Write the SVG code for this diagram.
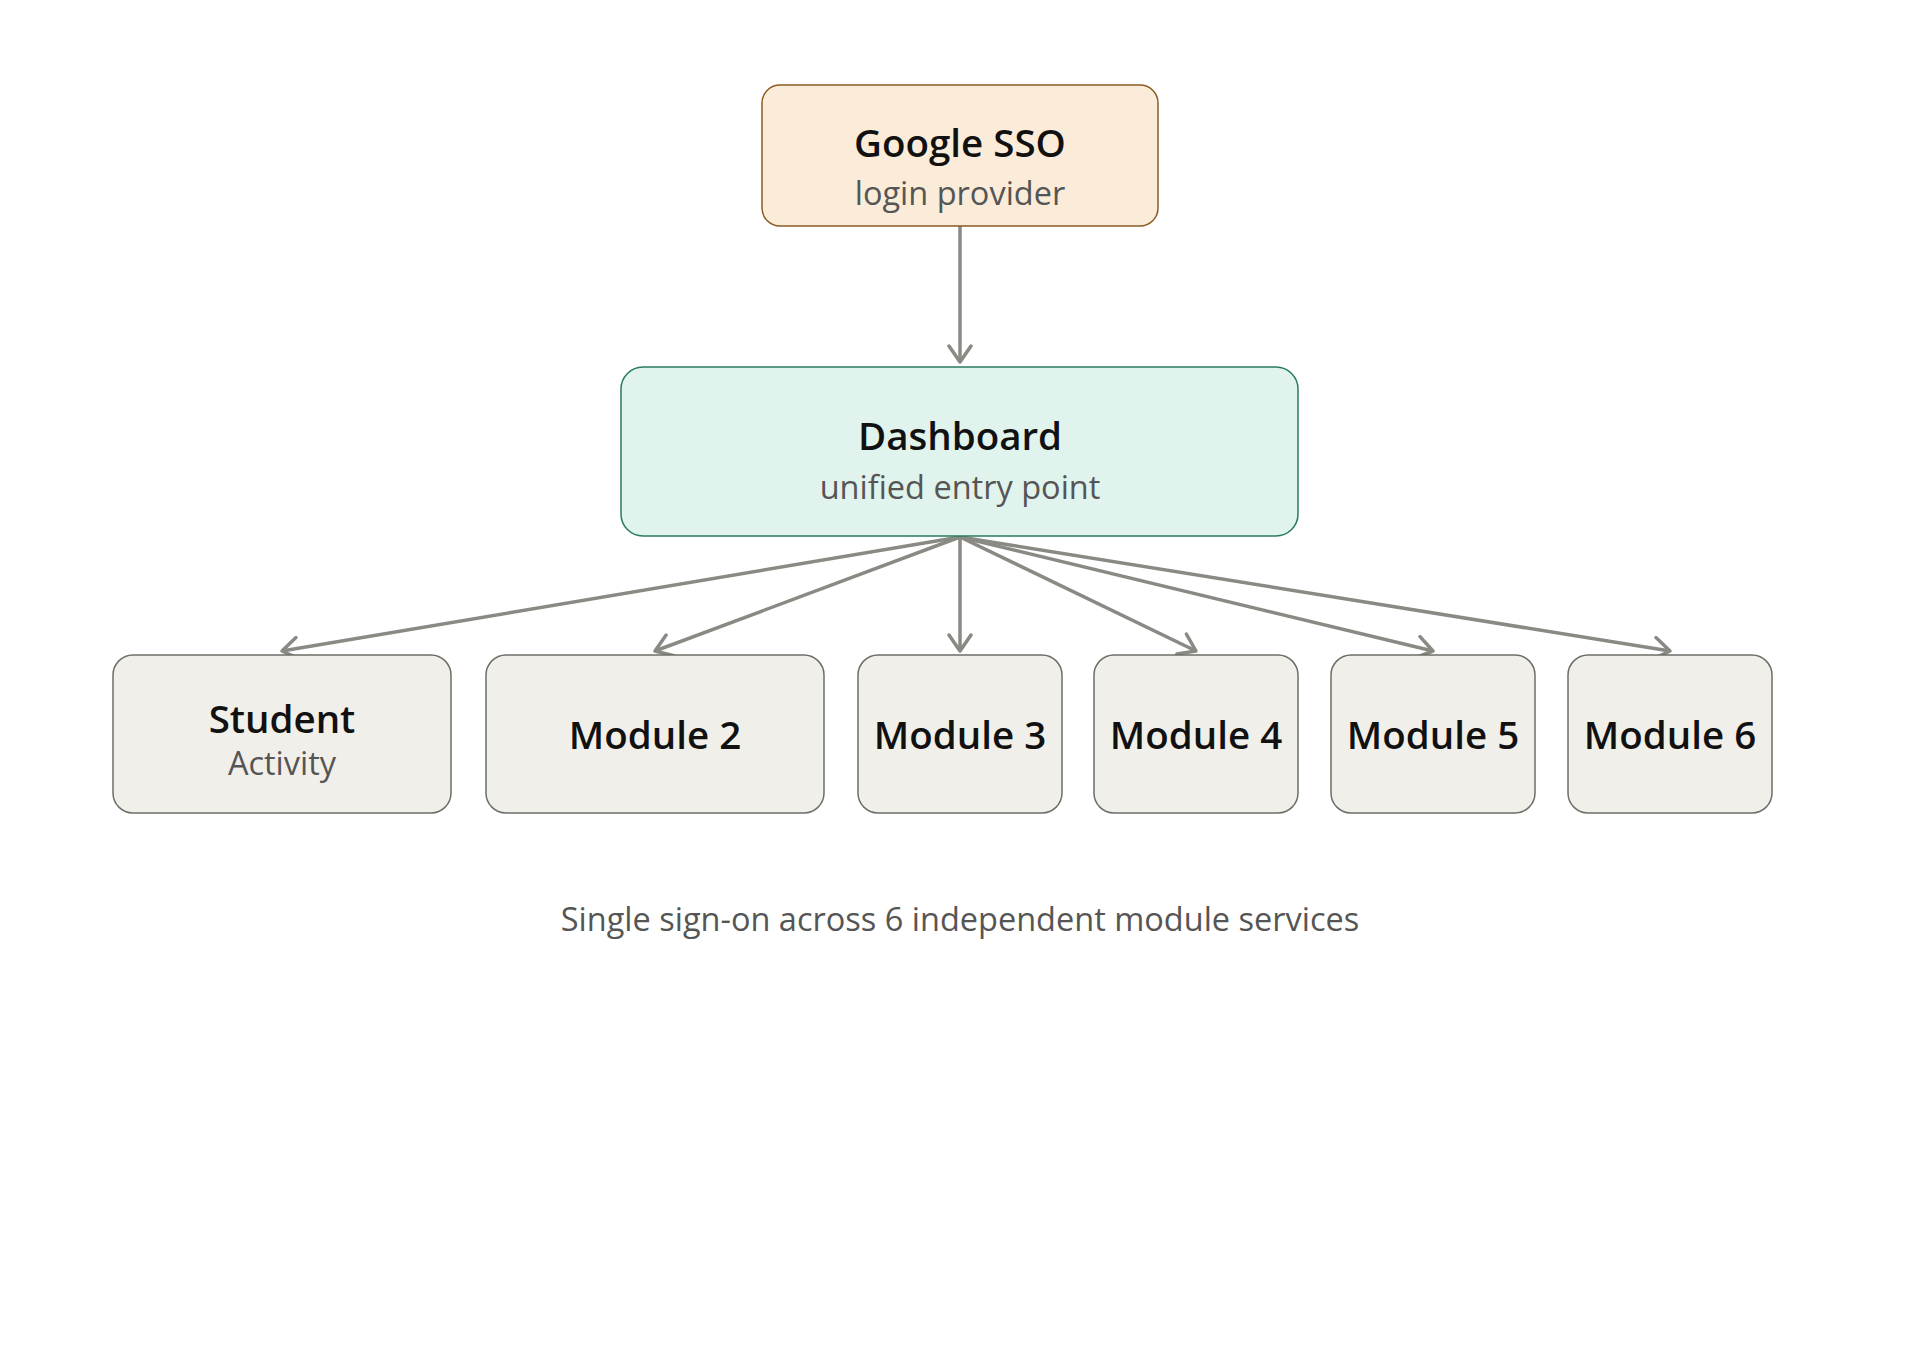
<svg xmlns="http://www.w3.org/2000/svg" width="1920" height="1355" viewBox="0 0 1920 1355">
<style>
.t{font-family:"Open Sans","Noto Sans","Liberation Sans",sans-serif;font-weight:600;font-size:38.5px;fill:#111;text-anchor:middle}
.s{font-family:"Open Sans","Noto Sans","Liberation Sans",sans-serif;font-weight:400;font-size:32.5px;fill:#555;text-anchor:middle}
.mod{fill:#f1efe9;stroke:#6e6e68;stroke-width:1.5}
.edge{stroke:#8a8a84;stroke-width:3.5;fill:none;marker-end:url(#arr)}
</style>
<defs>
<marker id="arr" viewBox="0 0 20 26" refX="18" refY="13" markerWidth="20" markerHeight="26" markerUnits="userSpaceOnUse" orient="auto">
<path d="M2,2 L18,13 L2,24" fill="none" stroke="#8a8a84" stroke-width="3.5" stroke-linecap="round" stroke-linejoin="round"/>
</marker>
</defs>
<rect width="1920" height="1355" fill="#ffffff"/>
<g id="connectors">
<line class="edge" x1="960" y1="226" x2="960" y2="362"/>
<line class="edge" x1="960" y1="537" x2="282" y2="651"/>
<line class="edge" x1="960" y1="537" x2="655" y2="651"/>
<line class="edge" x1="960" y1="537" x2="960" y2="651"/>
<line class="edge" x1="960" y1="537" x2="1196" y2="651"/>
<line class="edge" x1="960" y1="537" x2="1433" y2="651"/>
<line class="edge" x1="960" y1="537" x2="1670" y2="651"/>
</g>
<g id="google-sso">
<rect x="762" y="85" width="396" height="141" rx="18" fill="#faecd9" stroke="#8c5a22" stroke-width="1.5"/>
<text class="t" x="960" y="157">Google SSO</text>
<text class="s" x="960" y="205">login provider</text>
</g>
<g id="dashboard">
<rect x="621" y="367" width="677" height="169" rx="22" fill="#e0f3ec" stroke="#2b7a5f" stroke-width="1.5"/>
<text class="t" x="960" y="450">Dashboard</text>
<text class="s" x="960" y="499">unified entry point</text>
</g>
<g id="student-activity">
<rect class="mod" x="113" y="655" width="338" height="158" rx="20"/>
<text class="t" x="282" y="733">Student</text>
<text class="s" x="282" y="775">Activity</text>
</g>
<g id="module-2">
<rect class="mod" x="486" y="655" width="338" height="158" rx="20"/>
<text class="t" x="655" y="749">Module 2</text>
</g>
<g id="module-3">
<rect class="mod" x="858" y="655" width="204" height="158" rx="20"/>
<text class="t" x="960" y="749">Module 3</text>
</g>
<g id="module-4">
<rect class="mod" x="1094" y="655" width="204" height="158" rx="20"/>
<text class="t" x="1196" y="749">Module 4</text>
</g>
<g id="module-5">
<rect class="mod" x="1331" y="655" width="204" height="158" rx="20"/>
<text class="t" x="1433" y="749">Module 5</text>
</g>
<g id="module-6">
<rect class="mod" x="1568" y="655" width="204" height="158" rx="20"/>
<text class="t" x="1670" y="749">Module 6</text>
</g>
<text class="s" x="960" y="931">Single sign-on across 6 independent module services</text>
</svg>
